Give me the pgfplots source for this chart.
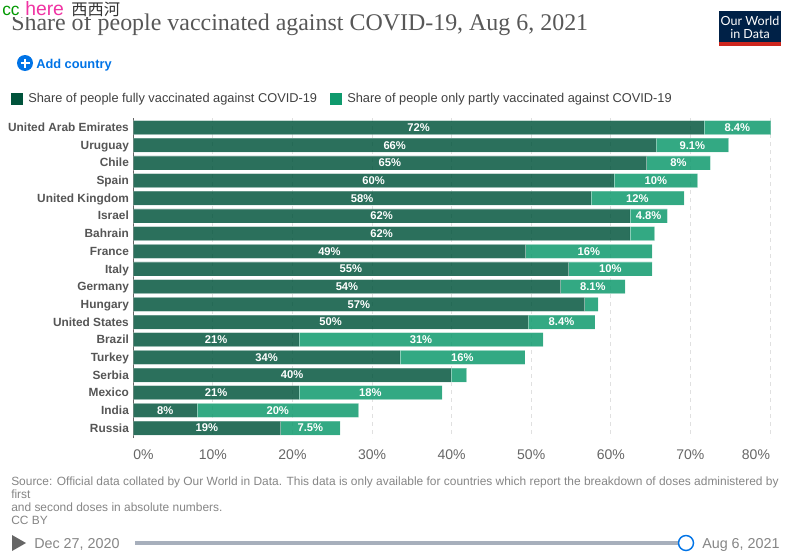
\documentclass[border=0pt]{standalone}
\usepackage{pgfplots}
\usepackage{pgfplotstable}
\usepackage{fontspec}
\pgfplotsset{compat=1.18}
\setmainfont{Liberation Sans}
\newfontfamily\titlefont{Liberation Serif}
\newfontfamily\cjk{Noto Sans CJK SC}
\newfontfamily\logofont{Lato}
\definecolor{fulldark}{HTML}{00533B}
\definecolor{partlight}{HTML}{0F9A6D}
\definecolor{rowlab}{HTML}{555555}
\definecolor{ticklab}{HTML}{666666}
\definecolor{srcgray}{HTML}{858585}
\definecolor{owidnavy}{HTML}{002147}
\definecolor{owidred}{HTML}{CE261E}
\definecolor{addblue}{HTML}{0073E6}
\definecolor{track}{HTML}{A7AFBC}
\pgfplotstableread[col sep=comma]{
row,full,flabel,part,plabel
0,71.7,72\%,8.4,8.4\%
1,65.7,66\%,9.1,9.1\%
2,64.5,65\%,8.0,8\%
3,60.4,60\%,10.5,10\%
4,57.5,58\%,11.7,12\%
5,62.4,62\%,4.7,4.8\%
6,62.4,62\%,3.1,{}
7,49.3,49\%,15.9,16\%
8,54.7,55\%,10.5,10\%
9,53.7,54\%,8.1,8.1\%
10,56.7,57\%,1.7,{}
11,49.6,50\%,8.4,8.4\%
12,20.8,21\%,30.7,31\%
13,33.5,34\%,15.7,16\%
14,39.9,40\%,2.0,{}
15,20.8,21\%,18.0,18\%
16,8.0,8\%,20.3,20\%
17,18.5,19\%,7.5,7.5\%
}\datatable
\begin{document}
\begin{tikzpicture}[x=0.75pt,y=-0.75pt]
\path[use as bounding box] (0,0) rectangle (794,557);
% title
\node[anchor=base west,inner sep=0,text=ticklab!85!black] at (11,30) {\titlefont\fontsize{17.95}{20}\selectfont Share of people vaccinated against COVID-19, Aug 6, 2021};
% overlay
\fill[white] (0,0) rectangle (121,16.5);
\node[anchor=base west,inner sep=0,text=green!60!black] at (2,15.5) {\fontsize{13}{14}\selectfont cc};
\node[anchor=base west,inner sep=0,text=magenta!80!white] at (25,15.5) {\fontsize{14.5}{15}\selectfont here};
\node[anchor=base west,inner sep=0,text=black!80] at (71,15.5) {\cjk\fontsize{12.2}{14}\selectfont 西西河};
% logo
\fill[owidnavy] (719,11) rectangle (781,46);
\fill[owidred] (719,42) rectangle (781,46);
\node[text=white,inner sep=0] at (750,20.5) {\logofont\fontsize{9.4}{10}\selectfont Our World};
\node[text=white,inner sep=0] at (750,33.5) {\logofont\fontsize{9.4}{10}\selectfont in Data};
% add country
\fill[addblue] (25,63) circle (8);
\draw[white,line width=1.5pt] (20.5,63) -- (29.5,63) (25,58.5) -- (25,67.5);
\node[anchor=base west,inner sep=0,text=addblue] at (36,68) {\fontsize{9.6}{12}\selectfont\bfseries Add country};
% legend
\fill[fulldark] (11,93) rectangle (23,105);
\node[anchor=base west,inner sep=0,text=black!75] at (28,102.5) {\fontsize{9.6}{11}\selectfont Share of people fully vaccinated against COVID-19};
\fill[partlight] (330,93) rectangle (342,105);
\node[anchor=base west,inner sep=0,text=black!75] at (347,102.5) {\fontsize{9.6}{11}\selectfont Share of people only partly vaccinated against COVID-19};
% axis
\coordinate (O) at (133.3,118);
\begin{axis}[
  at={(O)}, anchor=north west,
  scale only axis, width=477.5pt, height=240pt,
  xmin=0, xmax=80, ymin=-0.537, ymax=17.56, y dir=reverse,
  xbar stacked, bar width=10.5pt, clip=false,
  axis x line=bottom, axis y line=left,
  x axis line style={draw=none},
  y axis line style={draw=black!60,line width=0.6pt,-},
  major tick length=0pt,
  xmajorgrids,
  grid style={dashed,draw=black!12,line width=0.6pt},
  xtick={0,10,...,80},
  xticklabels={\makebox[0pt][l]{0\%},10\%,20\%,30\%,40\%,50\%,60\%,70\%,\makebox[0pt][r]{80\%}},
  ytick={0,...,17},
  yticklabels={United Arab Emirates,Uruguay,Chile,Spain,United Kingdom,Israel,Bahrain,France,Italy,Germany,Hungary,United States,Brazil,Turkey,Serbia,Mexico,India,Russia},
  x tick label style={font=\fontsize{10.5}{12}\selectfont,text=ticklab,yshift=-5pt},
  y tick label style={font=\fontsize{8.9}{11}\selectfont\bfseries,text=rowlab,xshift=0.2pt,text height=6.5pt,text depth=2pt,yshift=-0.8pt},
  nodes near coords,
  point meta=explicit symbolic,
  nodes near coords style={font=\fontsize{8.4}{10}\selectfont\bfseries,text=white,text opacity=1,fill opacity=1,draw opacity=1,inner sep=0pt},
]
\addplot[fill=fulldark,fill opacity=0.83,draw=white,draw opacity=0.25,line width=0.4pt] table[y=row,x=full,meta=flabel,col sep=comma] {\datatable};
\addplot[fill=partlight,fill opacity=0.85,draw=white,draw opacity=0.25,line width=0.4pt] table[y=row,x=part,meta=plabel,col sep=comma] {\datatable};
\end{axis}
% source
\node[anchor=base west,inner sep=0,text=srcgray] at (11,485) {\fontsize{8.96}{11}\selectfont Source: Official data collated by Our World in Data. This data is only available for countries which report the breakdown of doses administered by};
\node[anchor=base west,inner sep=0,text=srcgray] at (11,498) {\fontsize{8.96}{11}\selectfont first};
\node[anchor=base west,inner sep=0,text=srcgray] at (11,511) {\fontsize{8.96}{11}\selectfont and second doses in absolute numbers.};
\node[anchor=base west,inner sep=0,text=srcgray] at (11,524) {\fontsize{8.96}{11}\selectfont CC BY};
% timeline
\fill[ticklab] (12,535) -- (26,543) -- (12,551) -- cycle;
\node[anchor=base west,inner sep=0,text=srcgray] at (34,548) {\fontsize{10.75}{12}\selectfont Dec 27, 2020};
\fill[track] (135,541) rectangle (686,545);
\draw[addblue,fill=white,line width=1.1pt] (686,543) circle (7.5);
\node[anchor=base west,inner sep=0,text=srcgray] at (702,548) {\fontsize{10.75}{12}\selectfont Aug 6, 2021};
\end{tikzpicture}
\end{document}
